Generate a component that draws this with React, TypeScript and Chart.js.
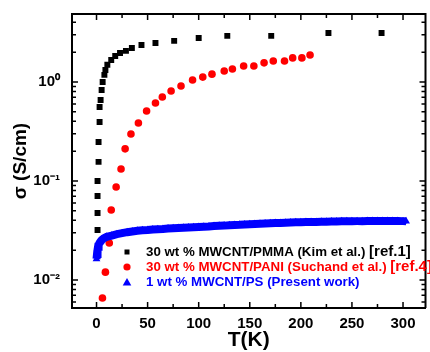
import React, { useEffect, useRef } from 'react';
import { Chart, registerables } from 'chart.js';

Chart.register(...registerables);

// 30 wt % MWCNT/PMMA (Kim et al.)
const PMMA_T = [1, 1, 1, 1, 1, 2, 2, 3, 3, 4, 5, 6, 7.7, 8.7, 10.6, 14.4, 18.3, 23, 28.8, 34.6, 44, 57.7, 76, 100, 128, 171, 227, 279];
const PMMA_S = [0.0201, 0.032, 0.0475, 0.0705, 0.1, 0.156, 0.248, 0.394, 0.559, 0.658, 0.83, 1.0, 1.18, 1.32, 1.49, 1.67, 1.83, 1.96, 2.06, 2.2, 2.36, 2.48, 2.6, 2.78, 2.92, 2.92, 3.13, 3.13];

// 30 wt % MWCNT/PANI (Suchand et al.)
const PANI_T = [5.8, 8.7, 12.5, 14.4, 19.2, 24, 28, 33.7, 41, 49, 57.7, 64.4, 73, 82.7, 94, 104, 113, 125, 133, 144, 154, 164, 173, 184, 192, 201, 209];
const PANI_S = [0.00658, 0.012, 0.0236, 0.0509, 0.087, 0.132, 0.211, 0.298, 0.385, 0.509, 0.614, 0.705, 0.811, 0.911, 1.047, 1.12, 1.2, 1.29, 1.35, 1.45, 1.45, 1.56, 1.63, 1.63, 1.75, 1.75, 1.87];

// 1 wt % MWCNT/PS (Present work)
const PS_T = [0, 0.5, 1, 1.5, 2, 3, 4, 5, 7, 10, 15, 20, 25, 30, 35, 40, 45, 50, 55, 60, 65, 70, 75, 80, 85, 90, 95, 100, 105, 110, 115, 120, 125, 130, 135, 140, 145, 150, 155, 160, 165, 170, 175, 180, 185, 190, 195, 200, 205, 210, 215, 220, 225, 230, 235, 240, 245, 250, 255, 260, 265, 270, 275, 280, 285, 290, 295, 300, 303];
const PS_S = [0.0163, 0.0183, 0.0201, 0.0216, 0.0226, 0.0237, 0.0245, 0.0253, 0.0263, 0.0273, 0.0281, 0.029, 0.0297, 0.0304, 0.0309, 0.0314, 0.0317, 0.0319, 0.0323, 0.0326, 0.0328, 0.0331, 0.0333, 0.0335, 0.0337, 0.0339, 0.0341, 0.0343, 0.0345, 0.0347, 0.035, 0.0352, 0.0354, 0.0357, 0.0359, 0.0361, 0.0364, 0.0366, 0.0368, 0.037, 0.0372, 0.0374, 0.0376, 0.0377, 0.0379, 0.038, 0.0382, 0.0383, 0.0384, 0.0385, 0.0386, 0.0387, 0.0388, 0.0389, 0.039, 0.0391, 0.0391, 0.0392, 0.0393, 0.0393, 0.0394, 0.0394, 0.0395, 0.0395, 0.0395, 0.0394, 0.0394, 0.0393, 0.0392];

const X_TICKS = [0, 50, 100, 150, 200, 250, 300];
const X_MINOR_TICKS = [25, 75, 125, 175, 225, 275];
const Y_TICKS = [0.01, 0.1, 1];
const Y_TICK_LABELS = ['10⁻²', '10⁻¹', '10⁰'];
const Y_MINOR_MULTIPLIERS = [2, 3, 4, 5, 6, 7, 8, 9];
const Y_DECADES = [0.001, 0.01, 0.1, 1];

const LEGEND_LABELS = ['30 wt % MWCNT/PMMA (Kim et al.)', '30 wt % MWCNT/PANI (Suchand et al.)', '1 wt % MWCNT/PS (Present work)'];
const LEGEND_REFS = ['[ref.1]', '[ref.4]', ''];
const LEGEND_COLORS = ['#000000', '#ff0000', '#0000ff'];
const LEGEND_SHAPES = ['rect', 'circle', 'triangle'];

const FONT = '"Liberation Sans", Arial, Helvetica, sans-serif';

const pts = (ts: number[], vs: number[]) => ts.map((t, i) => ({ x: t, y: vs[i] }));

const frameTicks = {
  id: 'frameTicks',
  afterDraw(chart: any) {
    const { ctx, chartArea, scales } = chart;
    const { left, right, top, bottom } = chartArea;
    const x = scales.x;
    const y = scales.y;
    ctx.save();
    ctx.strokeStyle = '#000';
    ctx.lineWidth = 2;
    ctx.beginPath();
    ctx.moveTo(left - 1, top);
    ctx.lineTo(right, top);
    ctx.lineTo(right, bottom);
    ctx.stroke();
    ctx.lineWidth = 1.5;
    const vt = (px: number, len: number) => {
      ctx.beginPath();
      ctx.moveTo(px, bottom);
      ctx.lineTo(px, bottom - len);
      ctx.moveTo(px, top);
      ctx.lineTo(px, top + len);
      ctx.stroke();
    };
    const ht = (py: number, len: number) => {
      ctx.beginPath();
      ctx.moveTo(left, py);
      ctx.lineTo(left + len, py);
      ctx.moveTo(right, py);
      ctx.lineTo(right - len, py);
      ctx.stroke();
    };
    X_TICKS.forEach((v) => vt(x.getPixelForValue(v), 6));
    X_MINOR_TICKS.forEach((v) => {
      if (v > x.min && v < x.max) vt(x.getPixelForValue(v), 4);
    });
    Y_DECADES.forEach((d) => {
      if (d > y.min && d < y.max) ht(y.getPixelForValue(d), 6);
      Y_MINOR_MULTIPLIERS.forEach((m) => {
        const v = m * d;
        if (v > y.min && v < y.max) ht(y.getPixelForValue(v), 4);
      });
    });
    ctx.restore();
  },
};

const legendInside = {
  id: 'legendInside',
  afterDraw(chart: any) {
    const { ctx } = chart;
    const x0 = 127;
    const tx = 146;
    const rows = [252, 267, 282.5];
    ctx.save();
    LEGEND_LABELS.forEach((label, i) => {
      const yy = rows[i];
      const c = LEGEND_COLORS[i];
      ctx.fillStyle = c;
      const shape = LEGEND_SHAPES[i];
      ctx.beginPath();
      if (shape === 'rect') {
        ctx.rect(x0 - 2.5, yy - 2.5, 5, 5);
      } else if (shape === 'circle') {
        ctx.arc(x0, yy, 3.6, 0, Math.PI * 2);
      } else {
        ctx.moveTo(x0, yy - 4.5);
        ctx.lineTo(x0 + 4.3, yy + 3);
        ctx.lineTo(x0 - 4.3, yy + 3);
        ctx.closePath();
      }
      ctx.fill();
      ctx.textBaseline = 'middle';
      ctx.textAlign = 'left';
      ctx.font = `bold 13.3px ${FONT}`;
      ctx.fillText(label, tx, yy);
      const w = ctx.measureText(label + ' ').width;
      if (LEGEND_REFS[i]) {
        ctx.font = `bold 15px ${FONT}`;
        ctx.fillText(LEGEND_REFS[i], tx + w, yy - 0.5);
      }
    });
    ctx.restore();
  },
};

export default function App() {
  const ref = useRef<HTMLCanvasElement | null>(null);
  useEffect(() => {
    if (!ref.current) return;
    Chart.defaults.font.family = FONT;
    Chart.defaults.color = '#000';
    const chart = new Chart(ref.current, {
      type: 'scatter',
      data: {
        datasets: [
          {
            label: LEGEND_LABELS[2],
            data: pts(PS_T, PS_S),
            showLine: true,
            borderColor: '#0000ff',
            borderWidth: 8,
            tension: 0,
            pointStyle: 'triangle',
            pointRadius: 4.5,
            pointBackgroundColor: '#0000ff',
            pointBorderWidth: 0,
            order: 0,
          },
          {
            label: LEGEND_LABELS[0],
            data: pts(PMMA_T, PMMA_S),
            showLine: false,
            pointStyle: 'rect',
            pointRadius: 4.2,
            pointBackgroundColor: '#000000',
            pointBorderWidth: 0,
            order: 1,
          },
          {
            label: LEGEND_LABELS[1],
            data: pts(PANI_T, PANI_S),
            showLine: false,
            pointStyle: 'circle',
            pointRadius: 3.8,
            pointBackgroundColor: '#ff0000',
            pointBorderWidth: 0,
            order: 2,
          },
        ],
      } as any,
      options: {
        animation: false,
        responsive: false,
        devicePixelRatio: 1,
        layout: { padding: { top: 14, right: -2, left: 0, bottom: 0 } },
        plugins: { legend: { display: false }, tooltip: { enabled: false } },
        scales: {
          x: {
            type: 'linear',
            min: -24,
            max: 322,
            afterBuildTicks: (s: any) => {
              s.ticks = X_TICKS.map((v) => ({ value: v }));
            },
            afterFit: (s: any) => {
              s.height = 44;
            },
            grid: { display: false },
            border: { display: true, color: '#000', width: 2 },
            ticks: { padding: -1, font: { size: 15, weight: 'bold' }, color: '#000', maxRotation: 0 },
            title: { display: true, text: 'T(K)', font: { size: 21, weight: 'bold' }, color: '#000', padding: { top: 0, bottom: -1 } },
          },
          y: {
            type: 'logarithmic',
            min: 0.00521,
            max: 4.86,
            afterBuildTicks: (s: any) => {
              s.ticks = Y_TICKS.map((v) => ({ value: v }));
            },
            afterFit: (s: any) => {
              s.width = 72;
            },
            grid: { display: false },
            border: { display: true, color: '#000', width: 2 },
            ticks: {
              padding: 4,
              font: { size: 15, weight: 'bold' },
              color: '#000',
              callback: (v: any) => {
                const i = Y_TICKS.indexOf(Number(v));
                return i >= 0 ? Y_TICK_LABELS[i] : '';
              },
            },
            title: { display: true, text: 'σ (S/cm)', font: { size: 19, weight: 'bold' }, color: '#000', padding: { top: 9, bottom: 0 } },
          },
        },
      } as any,
      plugins: [frameTicks, legendInside],
    });
    return () => chart.destroy();
  }, []);
  return (
    <div style={{ position: 'fixed', left: 0, top: 0, width: 430, height: 352, background: '#fff' }}>
      <canvas ref={ref} width={430} height={352} style={{ display: 'block' }} />
    </div>
  );
}
